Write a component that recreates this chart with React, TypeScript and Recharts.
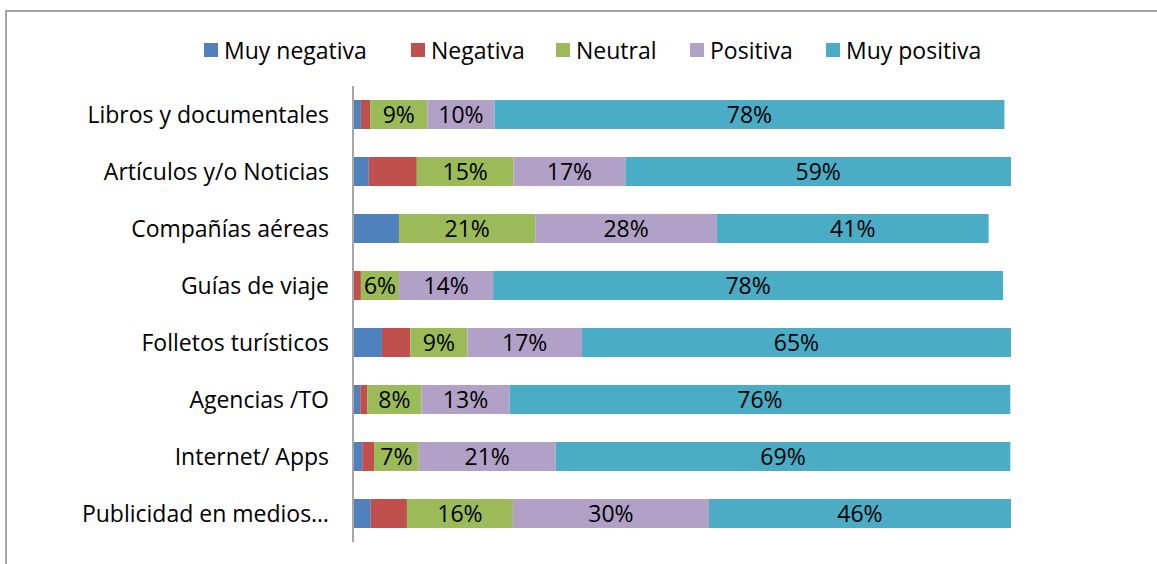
import { BarChart, Bar, XAxis, YAxis, LabelList } from 'recharts';

const categories = [
	'Libros y documentales',
	'Artículos y/o Noticias',
	'Compañías aéreas',
	'Guías de viaje',
	'Folletos turísticos',
	'Agencias /TO',
	'Internet/ Apps',
	'Publicidad en medios…',
];

const muyNegativa = [1.2, 2.4, 7.0, 0, 4.4, 1.1, 1.4, 2.7];
const negativa = [1.4, 7.3, 0, 1.2, 4.3, 1.1, 1.8, 5.5];
const neutral = [8.7, 14.7, 20.7, 5.8, 8.7, 8.2, 6.8, 16.1];
const positiva = [10.2, 17.0, 27.6, 14.3, 17.4, 13.4, 20.8, 29.8];
const muyPositiva = [77.5, 58.6, 41.3, 77.5, 65.2, 76.1, 69.1, 45.9];

const series = [
	{ key: 'muyNegativa', name: 'Muy negativa', color: '#4F81BD', label: false },
	{ key: 'negativa', name: 'Negativa', color: '#C0504D', label: false },
	{ key: 'neutral', name: 'Neutral', color: '#9BBB59', label: true },
	{ key: 'positiva', name: 'Positiva', color: '#B2A1C7', label: true },
	{ key: 'muyPositiva', name: 'Muy positiva', color: '#4BACC6', label: true },
];

// where each legend swatch sits, left to right
const legendLeft = [204, 411, 556, 690, 826];

const data = categories.map((name, i) => ({
	name,
	muyNegativa: muyNegativa[i],
	negativa: negativa[i],
	neutral: neutral[i],
	positiva: positiva[i],
	muyPositiva: muyPositiva[i],
}));

const FONT = '"Open Sans", Lato, sans-serif';
const FONT_SIZE = 23;

const LegendBox = () => (
	<>
		{series.map((s, i) => (
			<div
				key={s.key}
				style={{
					position: 'absolute',
					left: legendLeft[i],
					top: 36,
					height: 28,
					display: 'flex',
					alignItems: 'center',
					fontFamily: FONT,
					fontSize: FONT_SIZE,
					color: '#000',
					whiteSpace: 'nowrap',
				}}
			>
				<span style={{ width: 14, height: 14, background: s.color, marginRight: 6, display: 'inline-block' }} />
				<span>{s.name}</span>
			</div>
		))}
	</>
);

const App = () => {
	return (
		<div style={{ position: 'absolute', left: 0, top: 0, width: 1157, height: 564, overflow: 'hidden', background: '#fff' }}>
			<div
				style={{
					position: 'absolute',
					left: 5,
					top: 10,
					width: 1300,
					height: 700,
					border: '2px solid #a6a6a6',
				}}
			/>
			<BarChart
				width={1157}
				height={564}
				data={data}
				layout='vertical'
				margin={{ top: 86, right: 146, bottom: 22, left: 0 }}
				barSize={29}
				style={{ position: 'absolute', left: 0, top: 0 }}
			>
				<XAxis
					type='number'
					domain={[0, 100]}
					allowDataOverflow
					hide
				/>
				<YAxis
					type='category'
					dataKey='name'
					width={353}
					axisLine={{ stroke: '#a6a6a6', strokeWidth: 2 }}
					tickLine={false}
					tickSize={0}
					tickMargin={24}
					tick={{ fill: '#000', fontSize: FONT_SIZE, fontFamily: FONT }}
					interval={0}
				/>
				{series.map((s) => (
					<Bar
						key={s.key}
						dataKey={s.key}
						name={s.name}
						stackId='a'
						fill={s.color}
						isAnimationActive={false}
					>
						{s.label && (
							<LabelList
								dataKey={s.key}
								position='center'
								formatter={(v: number) => `${Math.round(v)}%`}
								style={{ fill: '#000', fontSize: FONT_SIZE, fontFamily: FONT }}
							/>
						)}
					</Bar>
				))}
			</BarChart>
			<LegendBox />
		</div>
	);
};

export default App;
